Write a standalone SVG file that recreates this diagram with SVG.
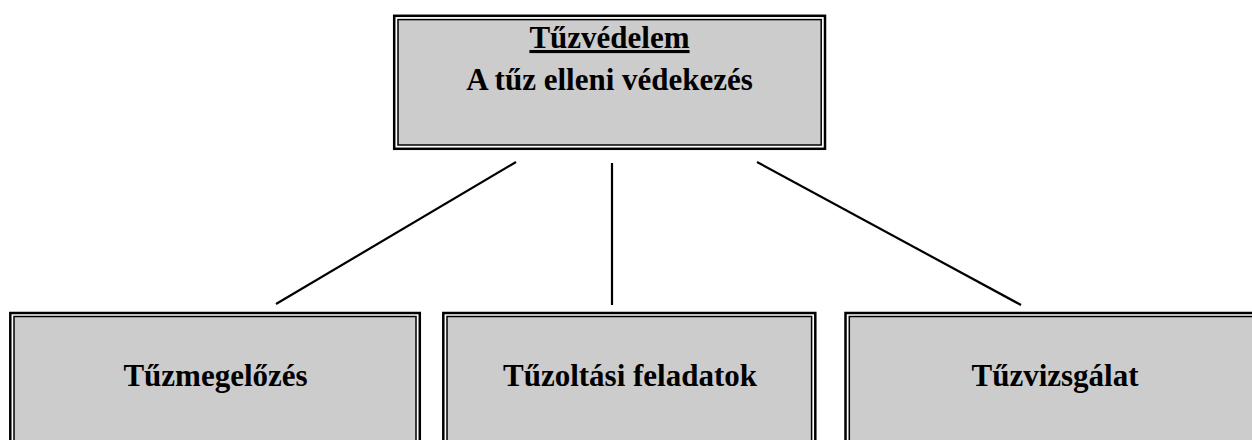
<svg xmlns="http://www.w3.org/2000/svg" width="1252" height="440" viewBox="0 0 1252 440">
<style>
.outer{fill:#fff;stroke:#000;stroke-width:2.5}
.inner{fill:#cccccc;stroke:#000;stroke-width:1.5}
.t{font-family:"Liberation Serif","Times New Roman",serif;font-weight:bold;font-size:31px;fill:#000;text-anchor:middle}
.c{stroke:#000;stroke-width:2.2;fill:none}
</style>
<rect width="1252" height="440" fill="#fff"/>
<g id="connectors">
<line class="c" x1="516" y1="162" x2="276" y2="304"/>
<line class="c" x1="612" y1="163" x2="612" y2="305"/>
<line class="c" x1="757" y1="162" x2="1021" y2="305"/>
</g>
<g id="node-top">
<rect class="outer" x="394.2" y="15.8" width="430.8" height="133"/>
<rect class="inner" x="398" y="19.6" width="423.2" height="125.4"/>
<text class="t" x="609.5" y="48" text-decoration="underline">Tűzvédelem</text>
<text class="t" x="609.5" y="90">A tűz elleni védekezés</text>
</g>
<g id="node-1">
<rect class="outer" x="10.3" y="313" width="409.5" height="140"/>
<rect class="inner" x="14" y="316.5" width="402" height="140"/>
<text class="t" x="215.5" y="386">Tűzmegelőzés</text>
</g>
<g id="node-2">
<rect class="outer" x="443.3" y="313" width="372" height="140"/>
<rect class="inner" x="447" y="316.5" width="364.6" height="140"/>
<text class="t" x="630" y="386">Tűzoltási feladatok</text>
</g>
<g id="node-3">
<rect class="outer" x="845.5" y="313" width="420" height="140"/>
<rect class="inner" x="849.3" y="316.5" width="412.5" height="140"/>
<text class="t" x="1055" y="386">Tűzvizsgálat</text>
</g>
</svg>
